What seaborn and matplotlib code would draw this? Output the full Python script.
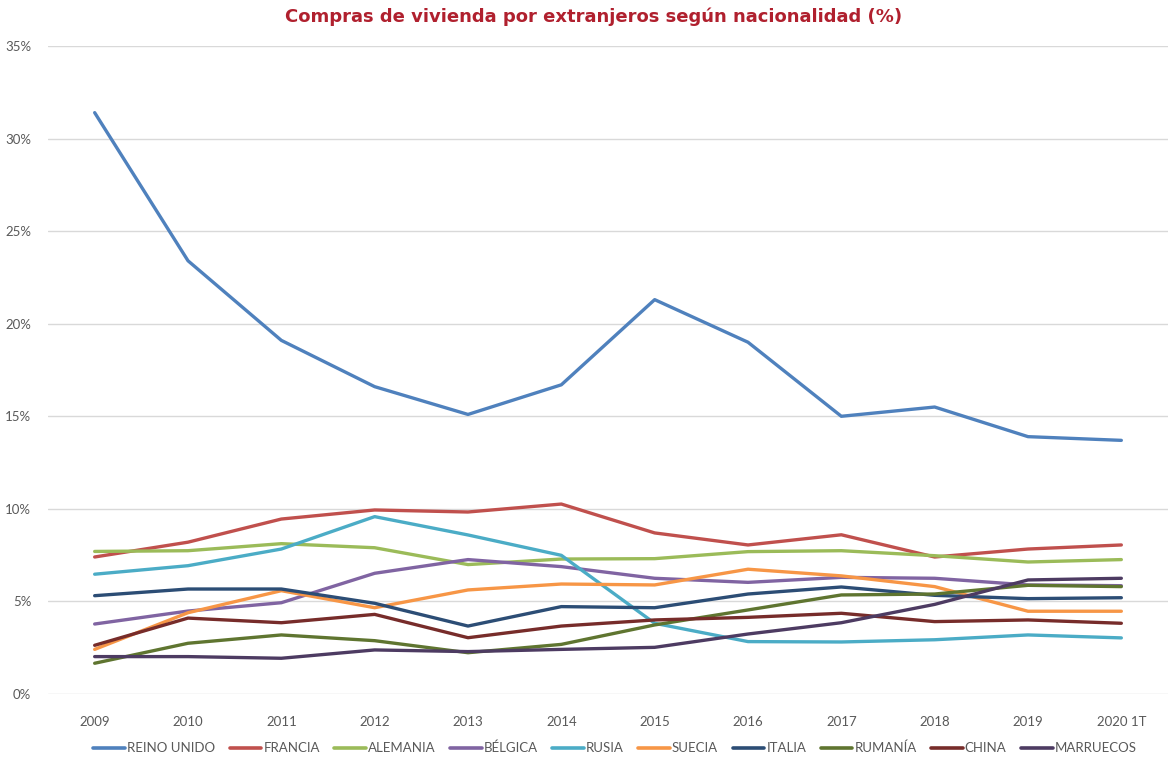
import pandas as pd
import matplotlib
matplotlib.use('Agg')
import matplotlib.pyplot as plt
import seaborn as sns
from matplotlib.ticker import PercentFormatter

YEARS = ['2009', '2010', '2011', '2012', '2013', '2014', '2015', '2016',
         '2017', '2018', '2019', '2020 1T']

REINO_UNIDO = [31.4, 23.4, 19.1, 16.6, 15.1, 16.7, 21.3, 19.0, 15.0, 15.5, 13.9, 13.7]
FRANCIA = [7.4, 8.2, 9.45, 9.94, 9.83, 10.26, 8.7, 8.05, 8.6, 7.4, 7.83, 8.05]
ALEMANIA = [7.7, 7.74, 8.12, 7.9, 6.99, 7.29, 7.31, 7.69, 7.74, 7.47, 7.13, 7.26]
BELGICA = [3.78, 4.48, 4.93, 6.52, 7.26, 6.88, 6.25, 6.03, 6.3, 6.25, 5.89, 5.85]
RUSIA = [6.47, 6.93, 7.83, 9.58, 8.59, 7.49, 3.82, 2.83, 2.81, 2.93, 3.19, 3.03]
SUECIA = [2.41, 4.39, 5.58, 4.66, 5.62, 5.94, 5.89, 6.74, 6.38, 5.8, 4.47, 4.47]
ITALIA = [5.31, 5.67, 5.67, 4.9, 3.67, 4.72, 4.66, 5.4, 5.78, 5.33, 5.15, 5.2]
RUMANIA = [1.66, 2.74, 3.19, 2.88, 2.23, 2.68, 3.73, 4.54, 5.35, 5.4, 5.87, 5.8]
CHINA = [2.63, 4.1, 3.85, 4.3, 3.04, 3.67, 4.0, 4.14, 4.36, 3.91, 4.0, 3.82]
MARRUECOS = [2.02, 2.02, 1.93, 2.38, 2.29, 2.41, 2.52, 3.24, 3.85, 4.84, 6.16, 6.25]

SERIES = {
    'REINO UNIDO': REINO_UNIDO,
    'FRANCIA': FRANCIA,
    'ALEMANIA': ALEMANIA,
    'BÉLGICA': BELGICA,
    'RUSIA': RUSIA,
    'SUECIA': SUECIA,
    'ITALIA': ITALIA,
    'RUMANÍA': RUMANIA,
    'CHINA': CHINA,
    'MARRUECOS': MARRUECOS,
}
COLORS = ['#4F81BD', '#C0504D', '#9BBB59', '#8064A2', '#4BACC6',
          '#F79646', '#2C4D75', '#5F7530', '#772C2A', '#4D3B62']


def main():
    df = pd.DataFrame(
        [(i, name, v) for name, vals in SERIES.items() for i, v in enumerate(vals)],
        columns=('idx', 'pais', 'valor')
    )

    sns.set_theme(style='white')
    plt.rcParams['font.family'] = ['Lato', 'DejaVu Sans']

    fig = plt.figure(figsize=(11.68, 7.58), dpi=100)
    ax = fig.add_axes([48 / 1168, 1 - 694 / 758, 1 - 48 / 1168, (694 - 46) / 758])

    sns.lineplot(data=df, x='idx', y='valor', hue='pais', palette=COLORS,
                 linewidth=2.4, ax=ax, legend=False)

    ax.set_xlim(-0.5, len(YEARS) - 0.5)
    ax.set_ylim(0, 35)
    ax.set_yticks(range(0, 36, 5))
    ax.yaxis.set_major_formatter(PercentFormatter(decimals=0))
    ax.set_xticks(range(len(YEARS)))
    ax.set_xticklabels(YEARS)
    ax.tick_params(axis='both', labelsize=9.5, colors='#595959', length=0)
    ax.tick_params(axis='x', pad=16)
    ax.tick_params(axis='y', pad=12)
    ax.set_xlabel('')
    ax.set_ylabel('')
    ax.grid(axis='y', color='#D9D9D9', linewidth=1)
    for s in ax.spines.values():
        s.set_visible(False)

    fig.text(0.508, 1 - 17 / 758, 'Compras de vivienda por extranjeros según nacionalidad (%)',
             ha='center', va='center', fontsize=13, fontweight='bold',
             color='#B0202E', family=['DejaVu Sans'])

    handles = [plt.Line2D([], [], color=c, linewidth=2.6) for c in COLORS]
    fig.legend(handles, list(SERIES.keys()), loc='center', ncol=10,
               bbox_to_anchor=(615 / 1168, 1 - 748 / 758), frameon=False,
               fontsize=9.5, handlelength=2.4, handletextpad=0.15,
               columnspacing=1.1, labelcolor='#595959')

    fig.savefig('out.png', dpi=100)


if __name__ == '__main__':
    main()
